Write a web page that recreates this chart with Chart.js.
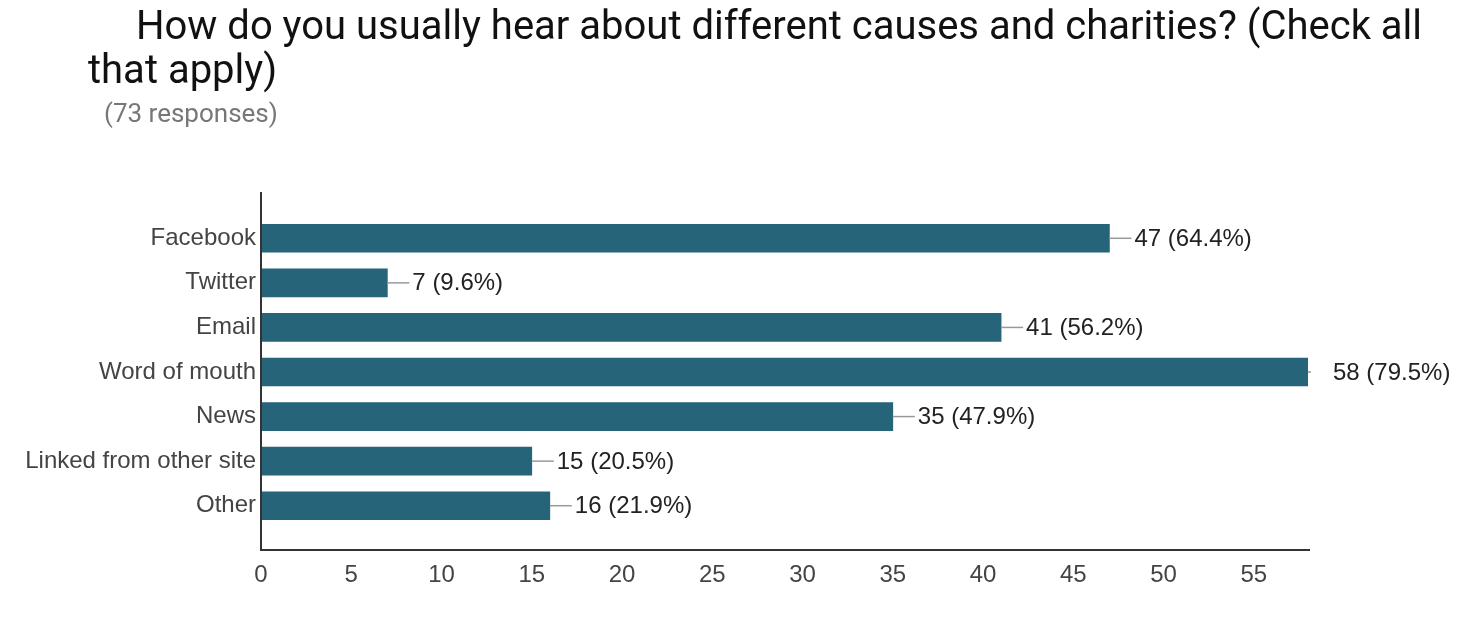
<!DOCTYPE html>
<html>
<head>
<meta charset="utf-8">
<script src="https://cdn.jsdelivr.net/npm/chart.js@4"></script>
<style>
  html, body { margin: 0; padding: 0; background: #fff; }
  #wrap { position: relative; width: 1476px; height: 622px; overflow: hidden; }
  #chart { position: absolute; left: 0; top: 0; }
  .title {
    position: absolute; left: 88px; top: 4px;
    font-family: Roboto, sans-serif; font-size: 40px; line-height: 44px;
    color: #111; text-indent: 48px; white-space: nowrap;
  }
  .sub {
    position: absolute; left: 104px; top: 100px;
    font-family: Roboto, sans-serif; font-size: 26px; line-height: 26px;
    color: #777;
  }
</style>
</head>
<body>
<div id="wrap">
  <canvas id="chart" width="1476" height="622"></canvas>
  <div class="title">How do you usually hear about different causes and charities? (Check all<br>that apply)</div>
  <div class="sub">(73 responses)</div>
</div>
<script>
// данные
const categories = ['Facebook', 'Twitter', 'Email', 'Word of mouth', 'News', 'Linked from other site', 'Other'];
const counts = [47, 7, 41, 58, 35, 15, 16];
const percents = ['64.4%', '9.6%', '56.2%', '79.5%', '47.9%', '20.5%', '21.9%'];
const xTicks = [0, 5, 10, 15, 20, 25, 30, 35, 40, 45, 50, 55];

const barColor = '#256479';
const fontFamily = '"Liberation Sans", Arial, sans-serif';

// оси рисуем сами, они длиннее области графика
const axisLines = {
  id: 'axisLines',
  afterDraw(chart) {
    const { ctx, chartArea: a } = chart;
    ctx.save();
    ctx.strokeStyle = '#333';
    ctx.lineWidth = 2;
    ctx.beginPath();
    ctx.moveTo(261, a.top - 24);
    ctx.lineTo(261, a.bottom + 22);
    ctx.lineTo(a.right + 2, a.bottom + 22);
    ctx.stroke();
    ctx.restore();
  }
};

// подписи значений с выносной линией
const valueLabels = {
  id: 'valueLabels',
  afterDatasetsDraw(chart) {
    const { ctx, chartArea: a } = chart;
    const meta = chart.getDatasetMeta(0);
    ctx.save();
    meta.data.forEach((bar, i) => {
      const x = bar.x, y = bar.y;
      ctx.strokeStyle = '#999';
      ctx.lineWidth = 1.5;
      ctx.beginPath();
      ctx.moveTo(x, y);
      ctx.lineTo(Math.min(x + 22, a.right + 3), y);
      ctx.stroke();
      ctx.fillStyle = '#222';
      ctx.font = '24px ' + fontFamily;
      ctx.textAlign = 'left';
      ctx.textBaseline = 'middle';
      ctx.fillText(counts[i] + ' (' + percents[i] + ')', x + 25, y + 1);
    });
    ctx.restore();
  }
};

new Chart(document.getElementById('chart'), {
  type: 'bar',
  data: {
    labels: categories,
    datasets: [{ data: counts, backgroundColor: barColor, barThickness: 28 }]
  },
  options: {
    indexAxis: 'y',
    responsive: false,
    animation: false,
    layout: { padding: { top: 216, right: 168, bottom: 0, left: 0 } },
    plugins: { legend: { display: false }, tooltip: { enabled: false }, title: { display: false } },
    scales: {
      x: {
        min: 0, max: 58,
        afterFit(scale) { scale.height = 94; },
        afterBuildTicks(scale) { scale.ticks = xTicks.map(v => ({ value: v })); },
        grid: { display: false, drawTicks: false, tickLength: 0 },
        border: { display: false },
        ticks: { color: '#444', font: { family: fontFamily, size: 24 }, padding: 33 }
      },
      y: {
        afterFit(scale) { scale.width = 261; },
        grid: { display: false, drawTicks: false, tickLength: 0 },
        border: { display: false },
        ticks: { color: '#444', font: { family: fontFamily, size: 24 }, padding: 5 }
      }
    }
  },
  plugins: [axisLines, valueLabels]
});
</script>
</body>
</html>
